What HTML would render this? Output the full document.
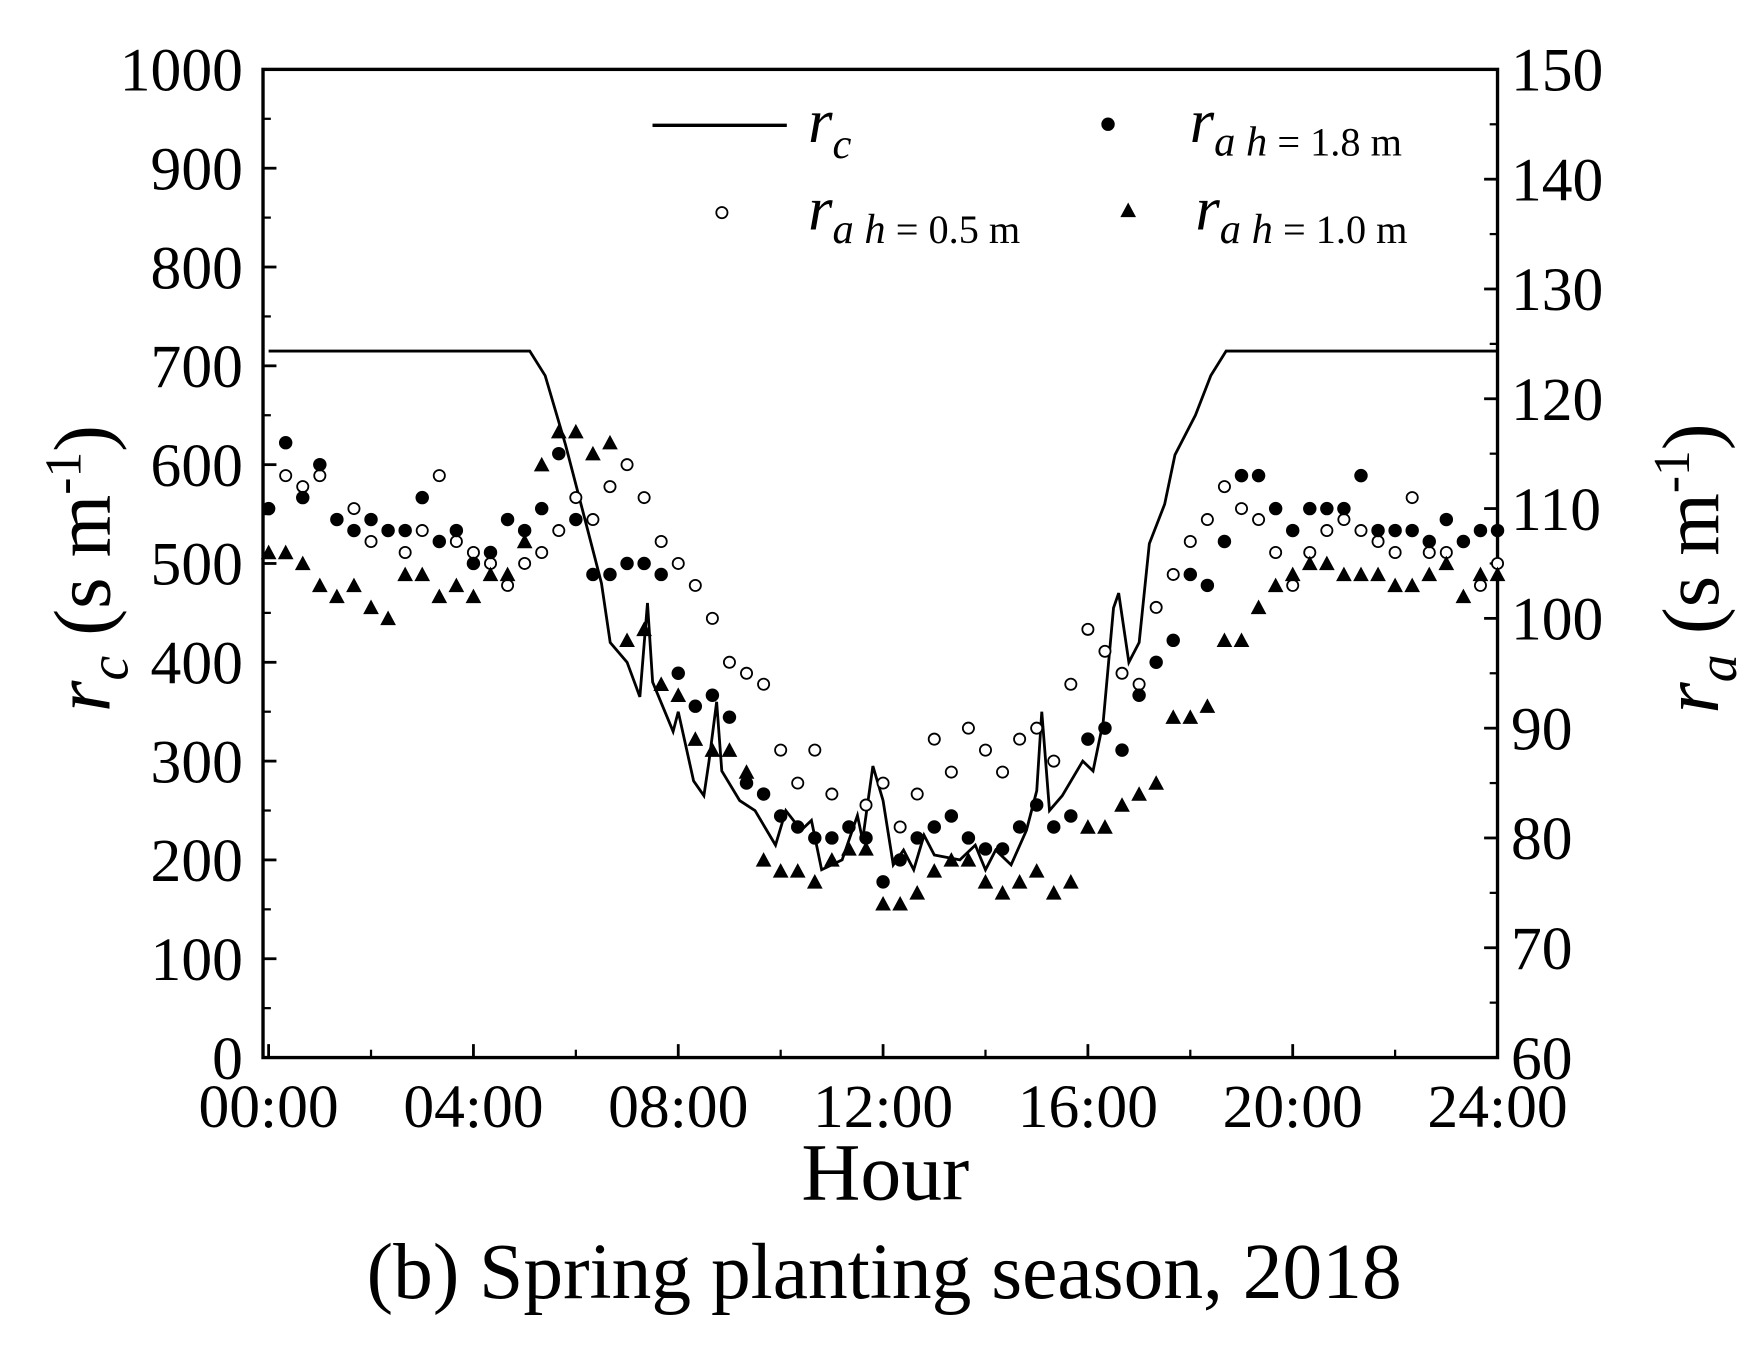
<!DOCTYPE html>
<html><head><meta charset="utf-8"><style>
html,body{margin:0;padding:0;background:#fff;}
svg{display:block;}
text{font-family:"Liberation Serif",serif;fill:#000;}
</style></head><body>
<svg id="chart" width="1746" height="1353" viewBox="0 0 1560 1209" preserveAspectRatio="none" xmlns="http://www.w3.org/2000/svg">
<g id="axes"></g>
<g id="marks"></g>
<g id="legend">
  <line x1="583" y1="112" x2="703" y2="112" stroke="#000" stroke-width="3"/>
  <text x="722" y="127" font-size="56" font-style="italic">r<tspan font-size="38" dy="14">c</tspan></text>
  <circle cx="990" cy="111" r="6" fill="#000"/>
  <text x="1063" y="127" font-size="56" font-style="italic">r<tspan font-size="38" dy="12">a h</tspan><tspan font-size="36" font-style="normal"> = 1.8 m</tspan></text>
  <circle cx="645" cy="190" r="5" fill="#fff" stroke="#000" stroke-width="1.6"/>
  <text x="722" y="205" font-size="56" font-style="italic">r<tspan font-size="38" dy="12">a h</tspan><tspan font-size="36" font-style="normal"> = 0.5 m</tspan></text>
  <polygon points="1008,181 1015,194 1001,194" fill="#000"/>
  <text x="1068" y="205" font-size="56" font-style="italic">r<tspan font-size="38" dy="12">a h</tspan><tspan font-size="36" font-style="normal"> = 1.0 m</tspan></text>
</g>
<text x="791" y="1072" font-size="73" text-anchor="middle">Hour</text>
<text x="790" y="1160" font-size="71" text-anchor="middle">(b) Spring planting season, 2018</text>
<text transform="translate(98,508) rotate(-90)" font-size="72" text-anchor="middle"><tspan font-style="italic">r</tspan><tspan font-style="italic" font-size="50" dy="16">c</tspan><tspan dy="-16"> (s m</tspan><tspan font-size="46" dy="-26">-1</tspan><tspan dy="26">)</tspan></text>
<text transform="translate(1535,508) rotate(-90)" font-size="72" text-anchor="middle"><tspan font-style="italic">r</tspan><tspan font-style="italic" font-size="50" dy="16">a</tspan><tspan dy="-16"> (s m</tspan><tspan font-size="46" dy="-26">-1</tspan><tspan dy="26">)</tspan></text>
</svg>
<script>
// data
const xTickLabels = ["00:00","04:00","08:00","12:00","16:00","20:00","24:00"];
const leftTickLabels = [0,100,200,300,400,500,600,700,800,900,1000];
const rightTickLabels = [60,70,80,90,100,110,120,130,140,150];
const rcHours = [0,5.1,5.4,5.8,6.2,6.5,6.67,7.0,7.25,7.4,7.5,7.9,8.0,8.3,8.5,8.6,8.75,8.85,9.2,9.5,9.9,10.1,10.4,10.6,10.8,11.2,11.5,11.6,11.8,12.0,12.2,12.4,12.6,12.8,13.0,13.5,13.8,14.0,14.2,14.5,14.8,15.0,15.1,15.25,15.5,15.9,16.1,16.3,16.5,16.6,16.8,17.0,17.2,17.5,17.7,18.1,18.4,18.7,24];
const rcValues = [715,715,690,620,540,480,420,400,365,460,380,330,350,280,265,300,360,290,260,250,215,250,230,240,190,200,245,220,295,260,195,210,190,225,205,200,215,190,210,195,230,270,350,250,265,300,290,340,455,470,400,420,520,560,610,650,690,715,715];
const ra05 = [110,113,112,113,109,110,107,108,106,108,113,107,106,105,103,105,106,108,111,109,112,114,111,107,105,103,100,96,95,94,88,85,88,84,81,83,85,81,84,89,86,90,88,86,89,90,87,94,99,97,95,94,101,104,107,109,112,110,109,106,103,106,108,109,108,107,106,111,106,106,107,103,105];
const ra18 = [110,116,111,114,109,108,109,108,108,111,107,108,105,106,109,108,110,115,109,104,104,105,105,104,95,92,93,91,85,84,82,81,80,80,81,80,76,78,80,81,82,80,79,79,81,83,81,82,89,90,88,93,96,98,104,103,107,113,113,110,108,110,110,110,113,108,108,108,107,109,107,108,108];
const ra10 = [106,106,105,103,102,103,101,100,104,104,102,103,102,104,104,107,114,117,117,115,116,98,99,94,93,89,88,88,86,78,77,77,76,78,79,79,74,74,75,77,78,78,76,75,76,77,75,76,81,81,83,84,85,91,91,92,98,98,101,103,104,105,105,104,104,104,103,103,104,105,102,104,104];

const NS="http://www.w3.org/2000/svg";
const L=235,R=1338,T=62,B=945,X0=240,X24=1338;
function xs(h){return X0+(X24-X0)*h/24;}
function yl(v){return B-(B-T)*v/1000;}
function yr(v){return B-(B-T)*(v-60)/90;}
function mk(tag,attrs,parent){const e=document.createElementNS(NS,tag);for(const k in attrs)e.setAttribute(k,attrs[k]);parent.appendChild(e);return e;}
const axes=document.getElementById('axes'), marks=document.getElementById('marks');
const frame=mk('rect',{x:L,y:T,width:R-L,height:B-T,fill:'none',stroke:'#000','stroke-width':3},axes);


leftTickLabels.forEach((v,i)=>{
  const y=yl(v);
  const t=mk('line',{x1:L,x2:L+12,y1:y,y2:y,stroke:'#000','stroke-width':2.5},axes);
  
  
  if(i<leftTickLabels.length-1){const m=mk('line',{x1:L,x2:L+7,y1:yl(v+50),y2:yl(v+50),stroke:'#000','stroke-width':2},axes);
  
  }
  const tx=mk('text',{x:L-18,y:y+19,'font-size':55,'text-anchor':'end'},axes);tx.textContent=v;
  
  
});
rightTickLabels.forEach((v,i)=>{
  const y=yr(v);
  const t=mk('line',{x1:R-12,x2:R,y1:y,y2:y,stroke:'#000','stroke-width':2.5},axes);
  
  
  if(i<rightTickLabels.length-1){const m=mk('line',{x1:R-7,x2:R,y1:yr(v+5),y2:yr(v+5),stroke:'#000','stroke-width':2},axes);
  
  }
  const tx=mk('text',{x:R+12,y:y+19,'font-size':55,'text-anchor':'start'},axes);tx.textContent=v;
  
  
});
xTickLabels.forEach((s,i)=>{
  const x=xs(i*4);
  const t=mk('line',{x1:x,x2:x,y1:B,y2:B-12,stroke:'#000','stroke-width':2.5},axes);
  
  
  if(i<6){const m=mk('line',{x1:xs(i*4+2),x2:xs(i*4+2),y1:B,y2:B-7,stroke:'#000','stroke-width':2},axes);
  
  }
  const tx=mk('text',{x:x,y:B+62,'font-size':55,'text-anchor':'middle'},axes);tx.textContent=s;
  
  
});
// rc line
const pts=rcHours.map((h,i)=>xs(h).toFixed(1)+','+yl(rcValues[i]).toFixed(1)).join(' ');
const line=mk('polyline',{points:pts,fill:'none',stroke:'#000','stroke-width':2.5},marks);


function hourAt(i){return i/3;}
ra05.forEach((v,i)=>{const c=mk('circle',{cx:xs(hourAt(i)),cy:yr(v),r:5,fill:'#fff',stroke:'#000','stroke-width':1.6},marks);
  
  });
ra18.forEach((v,i)=>{const c=mk('circle',{cx:xs(hourAt(i)),cy:yr(v),r:6,fill:'#000'},marks);
  
  });
ra10.forEach((v,i)=>{const x=xs(hourAt(i)),y=yr(v);
  const p=mk('polygon',{points:`${x},${y-7} ${x+7},${y+6} ${x-7},${y+6}`,fill:'#000'},marks);
  
  });
</script>
</body></html>
